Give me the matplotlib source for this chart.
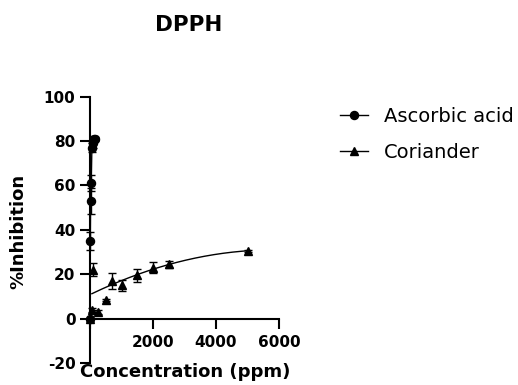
import numpy as np
import matplotlib
matplotlib.use('Agg')
import matplotlib.pyplot as plt

plt.rcParams['axes.unicode_minus'] = False

# Ascorbic acid
asc_x = np.array([5, 10, 20, 40, 60, 80, 100, 120, 150])
asc_y = np.array([0, 35, 53, 61, 77, 79, 80, 81, 81])
asc_err = np.array([0.5, 4, 6, 3.5, 2, 2, 1.5, 1.5, 1])

# Coriander
cor_x = np.array([10, 50, 100, 250, 500, 700, 1000, 1500, 2000, 2500, 5000])
cor_y = np.array([0, 4, 22, 3, 8.5, 17, 15, 19.5, 23, 24.5, 30.5])
cor_err = np.array([0.5, 1, 3, 1, 0.5, 3.5, 2.5, 3, 2.5, 1.5, 0.5])

x_ticks = [0, 2000, 4000, 6000]
x_labels = ['', '2000', '4000', '6000']
y_ticks = [-20, 0, 20, 40, 60, 80, 100]

fig = plt.figure(figsize=(5.18, 3.85), dpi=100)
ax = fig.add_axes([90/518, 1-363/385, 189/518, 266.3/385])

# error bars
ax.errorbar(asc_x, asc_y, yerr=asc_err, fmt='none', ecolor='black',
            elinewidth=1, capsize=3, capthick=1, clip_on=False)
ax.errorbar(cor_x, cor_y, yerr=cor_err, fmt='none', ecolor='black',
            elinewidth=1, capsize=3, capthick=1, clip_on=False)

# fitted curves
ax.plot(asc_x, asc_y, color='black', lw=1, clip_on=False)
fit_mask = cor_x >= 700
coef = np.polyfit(cor_x[fit_mask], cor_y[fit_mask], 2)
xs = np.linspace(60, 5000, 200)
ax.plot(xs, np.polyval(coef, xs), color='black', lw=1)

# markers
ax.plot(asc_x, asc_y, 'o', color='black', ms=5.8, clip_on=False, zorder=4)
ax.plot(cor_x, cor_y, '^', color='black', ms=6, clip_on=False, zorder=4)

ax.set_xlim(0, 6000)
ax.set_ylim(-20, 100)
ax.set_xticks(x_ticks)
ax.set_xticklabels(x_labels)
ax.set_yticks(y_ticks)

ax.spines['top'].set_visible(False)
ax.spines['right'].set_visible(False)
ax.spines['bottom'].set_position(('data', 0))
for s in ['left', 'bottom']:
    ax.spines[s].set_linewidth(1.5)

ax.tick_params(axis='both', length=7, width=1.5, labelsize=11)
ax.tick_params(axis='y', pad=3.5)
ax.tick_params(axis='x', pad=5)
for lab in ax.get_xticklabels() + ax.get_yticklabels():
    lab.set_fontweight('bold')

ax.set_xlabel('Concentration (ppm)', fontsize=13, fontweight='bold')
ax.xaxis.set_label_coords(0.505, 0.0)
ax.set_ylabel('%Inhibition', fontsize=13, fontweight='bold')
ax.yaxis.set_label_coords(-0.333, 0.494)

fig.text(188.5/518, 1-25/385, 'DPPH', ha='center', va='center',
         fontsize=15.5, fontweight='bold')

# legend
h1, = ax.plot([], [], '-o', color='black', lw=1, ms=5.8)
h2, = ax.plot([], [], '-^', color='black', lw=1, ms=6)
fig.legend([h1, h2], ['Ascorbic acid', 'Coriander'], loc='center left',
           bbox_to_anchor=(340/518, 1-134.5/385), frameon=False, fontsize=14,
           handlelength=1.45, handletextpad=0.8, labelspacing=0.9,
           borderpad=0, borderaxespad=0)

plt.savefig('out.png', dpi=100)
